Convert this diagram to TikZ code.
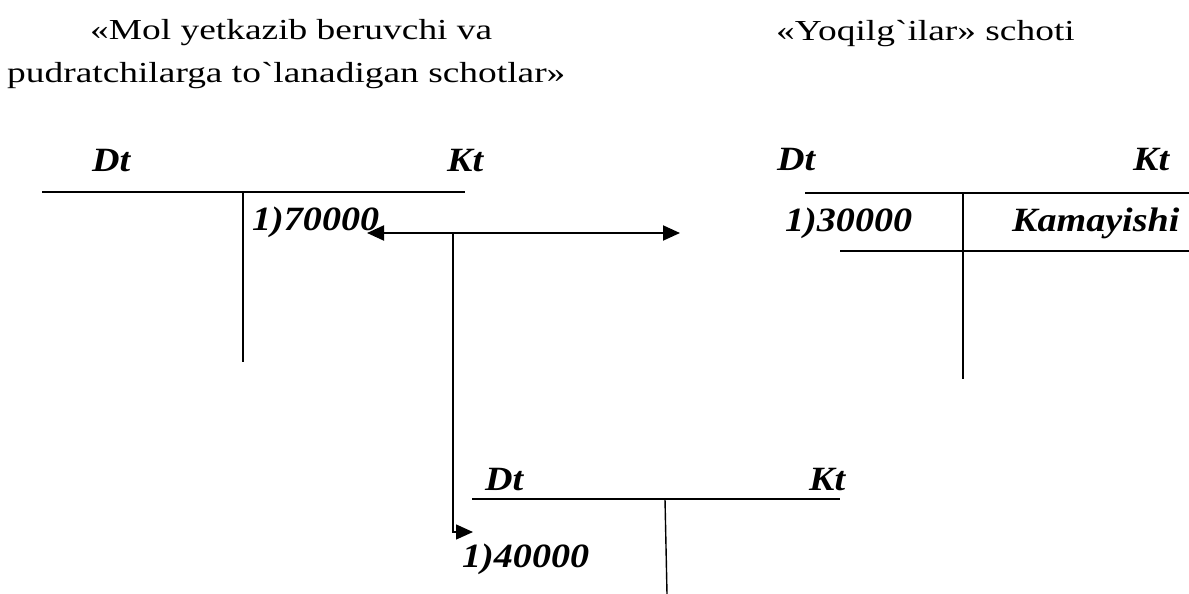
\documentclass[tikz,border=0pt]{standalone}
\usepackage{graphicx}
\usepackage{fontspec}
\setmainfont{Liberation Serif}
\usetikzlibrary{arrows.meta}
\font\grvf="Liberation Serif" at 29pt
\newcommand\wtitle[1]{\scalebox{1.29}[1]{#1}}
\newcommand\wlab[1]{\scalebox{1.12}[1]{#1}}
\newcommand\grv{{\grvf\char"60}}
\begin{document}
\begin{tikzpicture}[x=1pt,y=-1pt,
  title/.style={anchor=base west,inner sep=0pt,font=\fontsize{29}{32}\selectfont},
  lab/.style={anchor=base west,inner sep=0pt,font=\fontsize{34}{38}\selectfont\bfseries\itshape},
  tline/.style={line width=1.8pt},
  vline/.style={line width=1.4pt},
  arr/.style={line width=2pt},
  conn/.style={line width=1.4pt}]
\useasboundingbox (0,0) rectangle (1189,594);
% titles
\node[title] (t1a) at (90,40) {\wtitle{«Mol yetkazib beruvchi va}};
\node[title] (t1b) at (7,82) {\wtitle{pudratchilarga to\grv lanadigan schotlar»}};
\node[title] (t2) at (776,41) {\wtitle{«Yoqilg\grv ilar» schoti}};
% left T-account
\node[lab] (ldt) at (92,171) {\wlab{Dt}};
\node[lab] (lkt) at (447,171) {\wlab{Kt}};
\draw[tline] (42,192) -- (465,192);
\draw[vline] (243,193) -- (243,362);
\node[lab] (l70) at (252,230) {\wlab{1)70000}};
% right T-account
\node[lab] (rdt) at (777,170) {\wlab{Dt}};
\node[lab] (rkt) at (1133,170) {\wlab{Kt}};
\draw[tline] (805,193) -- (1189,193);
\draw[vline] (963,193) -- (963,379);
\draw[tline] (840,251) -- (1189,251);
\node[lab] (r30) at (785,231) {\wlab{1)30000}};
\node[lab] (rkam) at (1012,231) {\wlab{Kamayishi}};
% bottom T-account
\node[lab] (bdt) at (485,490) {\wlab{Dt}};
\node[lab] (bkt) at (809,490) {\wlab{Kt}};
\draw[tline] (472,499) -- (840,499);
\draw[vline] (665,499) -- (667,594);
\node[lab] (b40) at (462,567) {\wlab{1)40000}};
% connectors
\coordinate (aL) at (367,233);
\coordinate (aR) at (680,233);
\coordinate (aM) at (453,233);
\coordinate (aB) at (453,532);
\coordinate (aE) at (473,532);
\draw[arr,{Triangle[length=17pt,width=15pt]}-{Triangle[length=17pt,width=15pt]}] (aL) -- (aR);
\draw[conn,-{Triangle[length=17pt,width=15pt]}] (aM) -- (aB) -- (aE);
\end{tikzpicture}
\end{document}
